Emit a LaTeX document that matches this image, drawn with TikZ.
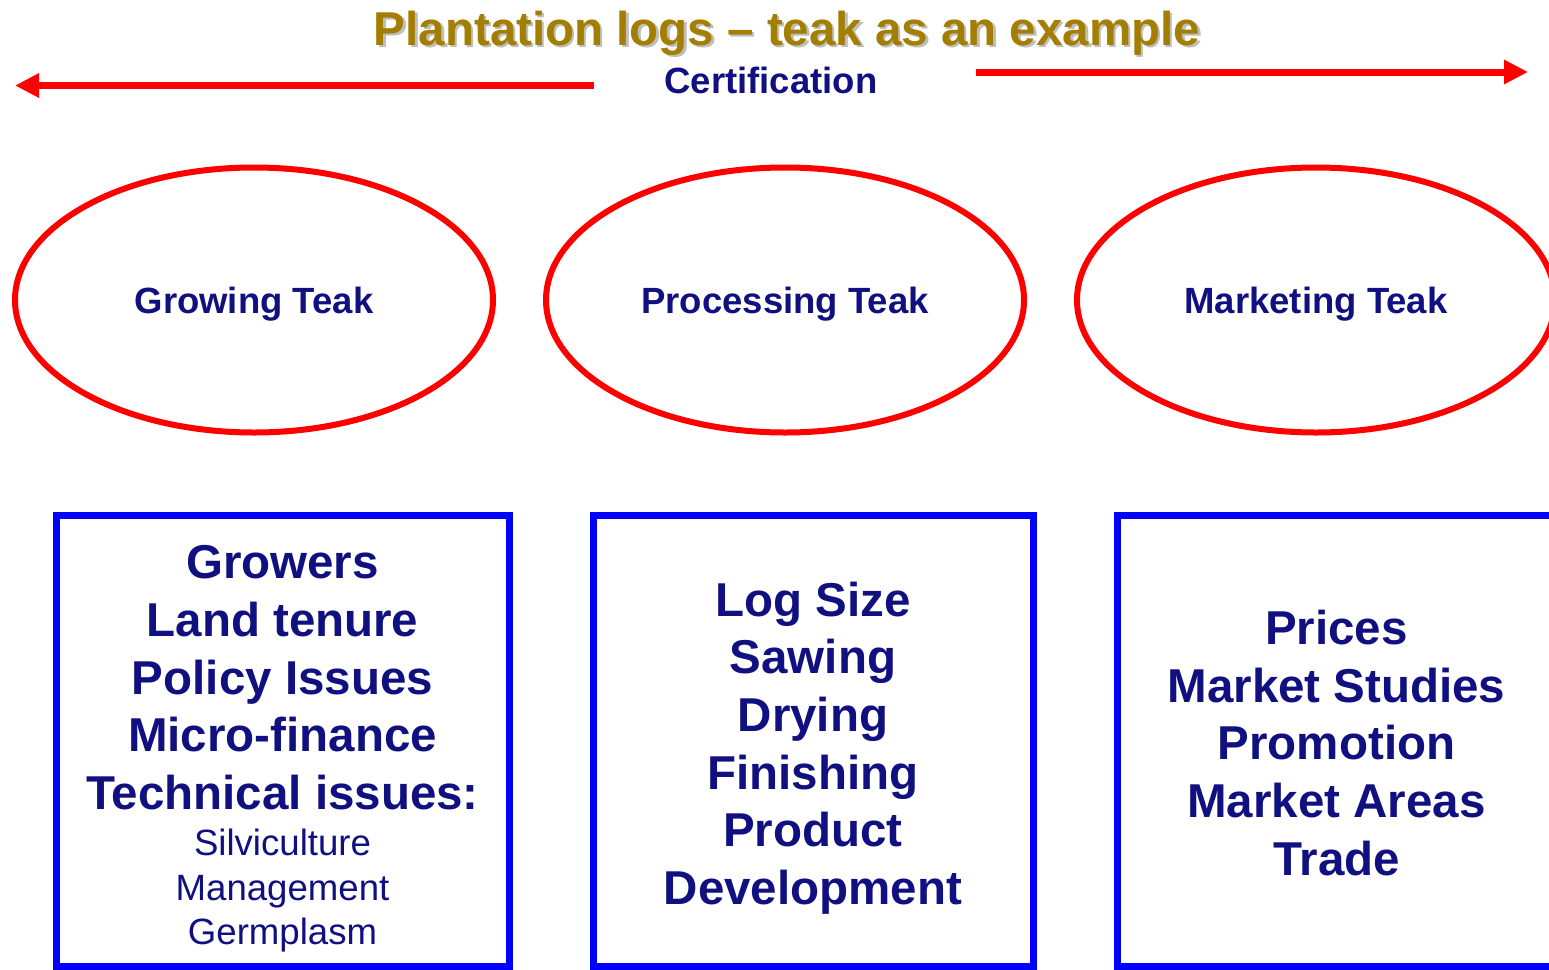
\documentclass[tikz,border=0pt]{standalone}
\usepackage{fontspec}
\setmainfont{Liberation Sans}
\usetikzlibrary{shapes.geometric,arrows.meta}
\definecolor{navy}{RGB}{16,16,128}
\definecolor{gold}{RGB}{163,126,0}
\definecolor{shade}{RGB}{190,190,190}
\newcommand{\detail}[1]{{\mdseries\fontsize{36.6}{44.5}\selectfont #1}}

\begin{document}
\begin{tikzpicture}[x=1pt, y=-1pt, >={Triangle[length=24pt,width=23pt]},
    stage/.style={ellipse, draw=red, line width=6pt, minimum width=478pt, minimum height=265pt,
        text=navy, text depth=0pt, font=\bfseries\fontsize{36.5}{44}\selectfont},
    issues/.style={draw=blue, line width=7pt, minimum width=453pt, minimum height=451pt},
    list/.style={align=center, text=navy, font=\bfseries\fontsize{47.5}{57.7}\selectfont}]
\useasboundingbox (0,0) rectangle (1549,969);
\clip (0,0) rectangle (1549,969);
% heading with its shadow
\node[text=shade, font=\bfseries\fontsize{47.5}{57}\selectfont] at (789.5,35.5) {Plantation logs -- teak as an example};
\node[text=gold, font=\bfseries\fontsize{47.5}{57}\selectfont] (title) at (787,33) {Plantation logs -- teak as an example};
\node[text=navy, font=\bfseries\fontsize{36.5}{44}\selectfont] (cert) at (771,80) {Certification};
\coordinate (certW) at (15,85.5);
\coordinate (startW) at (594,85.5);
\coordinate (startE) at (976,72);
\coordinate (certE) at (1528,72);
\draw[->, red, line width=7pt] (startW)--(certW);
\draw[->, red, line width=7pt] (startE)--(certE);
% the three stages
\node[stage] (grow) at (254,300) {Growing Teak};
\node[stage] (proc) at (785,300) {Processing Teak};
\node[stage] (mark) at (1316,300) {Marketing Teak};
% what each stage deals with
\node[issues] (growBox) at (282.5,740.5) {};
\node[issues, minimum width=440pt] (procBox) at (813,740.5) {};
\node[issues, minimum width=439pt] (markBox) at (1336.5,740.5) {};
\node[list] (growList) at (282.5,749) {Growers\\Land tenure\\Policy Issues\\Micro-finance\\Technical issues:\\[-11.7pt]
    \detail{Silviculture}\\[-13.2pt]\detail{Management}\\[-13.2pt]\detail{Germplasm}};
\node[list] (procList) at (813,748) {Log Size\\Sawing\\Drying\\Finishing\\Product\\Development};
\node[list] (markList) at (1336.5,743) {Prices\\Market Studies\\Promotion\\Market Areas\\Trade};
\end{tikzpicture}
\end{document}
